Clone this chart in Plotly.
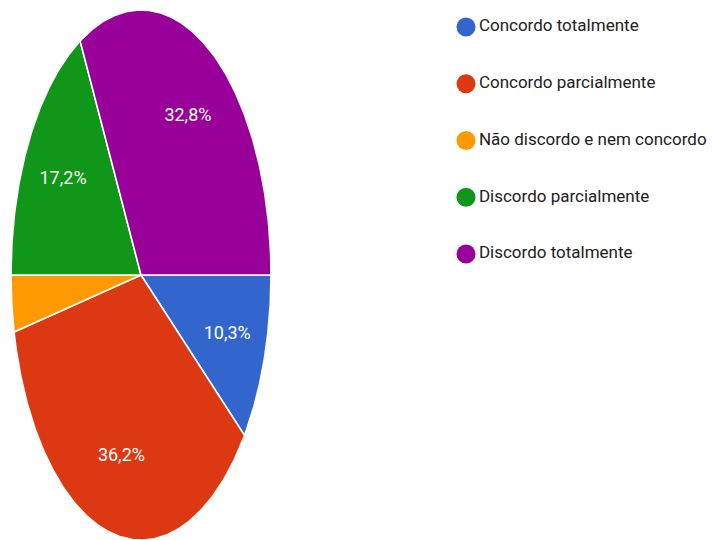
import numpy as np
import plotly.graph_objects as go

# Survey answers (58 responses)
categories = [
    "Concordo totalmente",
    "Concordo parcialmente",
    "Não discordo e nem concordo",
    "Discordo parcialmente",
    "Discordo totalmente",
]
counts = [6, 21, 2, 10, 19]
colors = ["#3366CC", "#DC3912", "#FF9900", "#109618", "#990099"]

total = sum(counts)
fractions = np.array(counts, dtype=float) / total
edges = np.concatenate([[0.0], np.cumsum(fractions)])

fig = go.Figure()

# Slices: start at 3 o'clock and run clockwise
LABEL_R = 0.7
for i, (name, frac) in enumerate(zip(categories, fractions)):
    t = np.linspace(edges[i], edges[i + 1], 200)
    theta = -2 * np.pi * t
    xs = np.concatenate([[0.0], np.cos(theta), [0.0]])
    ys = np.concatenate([[0.0], np.sin(theta), [0.0]])
    fig.add_trace(go.Scatter(
        x=xs, y=ys, mode="lines", fill="toself",
        fillcolor=colors[i], line=dict(color="white", width=1.6),
        name=name, showlegend=False, hoverinfo="skip",
        xaxis="x", yaxis="y",
    ))

# Percentage labels for slices large enough to hold them
lab_x, lab_y, lab_t = [], [], []
for i, frac in enumerate(fractions):
    if frac < 0.05:
        continue
    mid = -2 * np.pi * (edges[i] + edges[i + 1]) / 2
    lab_x.append(LABEL_R * np.cos(mid))
    lab_y.append(LABEL_R * np.sin(mid))
    lab_t.append(f"{frac * 100:.1f}%".replace(".", ","))
fig.add_trace(go.Scatter(
    x=lab_x, y=lab_y, mode="text", text=lab_t,
    textfont=dict(family="Roboto", size=18, color="white"),
    showlegend=False, hoverinfo="skip", xaxis="x", yaxis="y",
))

# Legend column drawn on its own axes
fig.add_trace(go.Scatter(
    x=[0] * len(categories), y=list(range(len(categories))),
    mode="markers+text", text=categories, textposition="middle right",
    marker=dict(size=19, color=colors, line=dict(width=0)),
    textfont=dict(family="Roboto", size=17, color="#212121"),
    cliponaxis=False,
    showlegend=False, hoverinfo="skip", xaxis="x2", yaxis="y2",
))

W, H = 712, 540
cx, cy = 141, 275      # pie centre in pixels
rx, ry = 130, 265      # pie radii in pixels
row0, row_step = 27, 56.75

hidden = dict(visible=False, showgrid=False, zeroline=False, fixedrange=True)
fig.update_layout(
    width=W, height=H,
    margin=dict(l=0, r=0, t=0, b=0),
    paper_bgcolor="white", plot_bgcolor="white",
    showlegend=False,
    xaxis=dict(domain=[0, 1], range=[-cx / rx, (W - cx) / rx], **hidden),
    yaxis=dict(domain=[0, 1], range=[-(H - cy) / ry, cy / ry], **hidden),
    xaxis2=dict(domain=[466 / W, 1], range=[0, 1], anchor="y2", **hidden),
    yaxis2=dict(domain=[0, 1], anchor="x2",
                range=[(H - row0) / row_step, -row0 / row_step], **hidden),
)

fig.write_html("out.html")
